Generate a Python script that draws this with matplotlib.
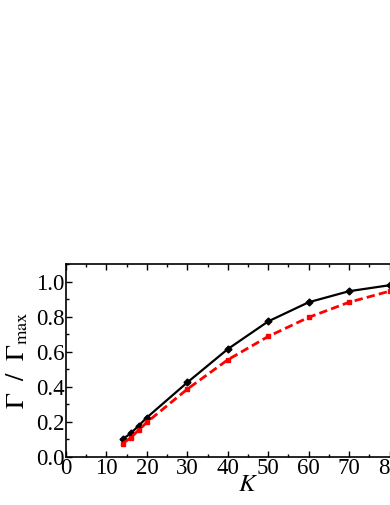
import numpy as np
import matplotlib as mpl
import matplotlib.pyplot as plt
from matplotlib.ticker import MultipleLocator

K = [14, 16, 18, 20, 30, 40, 50, 60, 70, 80]
gamma_solid = [0.101, 0.135, 0.179, 0.225, 0.425, 0.615, 0.773, 0.882, 0.945, 0.979]
gamma_dashed = [0.076, 0.110, 0.154, 0.198, 0.387, 0.554, 0.687, 0.796, 0.882, 0.945]

plt.rcParams['font.family'] = ['Liberation Serif', 'DejaVu Serif']
plt.rcParams['mathtext.fontset'] = 'stix'

fig = plt.figure(figsize=(3.9, 5.05), dpi=100)
# axes run past the right edge of the figure, as in the reference
ax = fig.add_axes([66/390, 48/505, 364/390, 193/505])

ax.plot(K, gamma_solid, "-", color="black", lw=1.6, marker="D", ms=3.5)
ax.plot(K, gamma_dashed, "--", color="red", lw=2.0, marker="s", ms=3.5, dashes=(3, 1.5))

ax.set_xlim(0, 90)
ax.set_ylim(0, 1.1)
ax.xaxis.set_major_locator(MultipleLocator(10))
ax.xaxis.set_minor_locator(MultipleLocator(5))
ax.yaxis.set_major_locator(MultipleLocator(0.2))
ax.yaxis.set_minor_locator(MultipleLocator(0.1))
ax.yaxis.set_major_formatter(mpl.ticker.FormatStrFormatter("%.1f"))
ax.tick_params(which="both", direction="in", top=True, right=True, labelsize=16.5, width=1.0)
ax.tick_params(which="major", length=4, pad=1)
ax.tick_params(which="minor", length=2)
for s in ax.spines.values():
    s.set_linewidth(1.2)

ax.set_xlabel(r"$K$", fontsize=18, labelpad=-4)
ax.set_ylabel(r"$\Gamma\ \ /\ \ \Gamma_{\rm max}$", fontsize=19, labelpad=4)

fig.savefig("out.png", dpi=100)
